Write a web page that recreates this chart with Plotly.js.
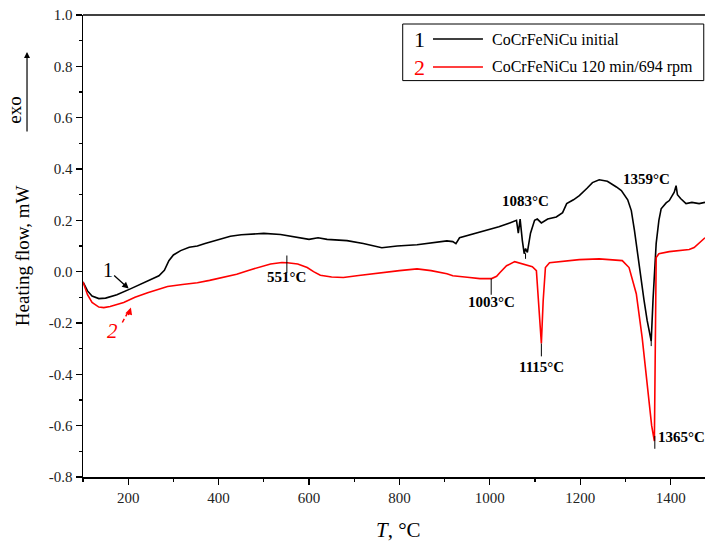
<!DOCTYPE html>
<html>
<head>
<meta charset="utf-8">
<script src="https://cdn.plot.ly/plotly-3.0.1.min.js"></script>
<style>html,body{margin:0;padding:0;background:#fff}#chart{width:705px;height:543px}</style>
</head>
<body>
<div id="chart"></div>
<script>
// Series 1: CoCrFeNiCu initial
const t1 = [100,110,120,135,150,175,206,240,268,280,290,300,316,335,353,370,389,410,426,450,477,500,537,552,570,587,600,620,640,684,720,761,775,795,839,870,905,918,925,933,960,993,1020,1044,1059,1063,1067,1072,1076,1079,1083,1090,1099,1105,1114,1128,1147,1161,1170,1185,1198,1215,1227,1242,1260,1280,1291,1305,1313,1320,1326,1335,1341,1348,1352,1357,1361,1365,1368,1374,1379,1390,1397,1408,1412,1415,1422,1434,1447,1463,1476];
const hf1 = [-0.04,-0.075,-0.095,-0.105,-0.103,-0.09,-0.066,-0.04,-0.016,0.005,0.043,0.065,0.082,0.095,0.10,0.11,0.12,0.13,0.138,0.144,0.148,0.149,0.145,0.14,0.134,0.128,0.126,0.132,0.126,0.121,0.11,0.093,0.096,0.10,0.105,0.112,0.12,0.117,0.109,0.132,0.145,0.16,0.175,0.19,0.2,0.15,0.205,0.12,0.07,0.09,0.075,0.15,0.2,0.205,0.19,0.205,0.213,0.23,0.265,0.28,0.296,0.325,0.347,0.358,0.352,0.33,0.316,0.28,0.238,0.16,0.08,-0.03,-0.11,-0.19,-0.23,-0.27,-0.11,0.05,0.11,0.2,0.245,0.268,0.277,0.31,0.335,0.30,0.285,0.265,0.27,0.265,0.27];
// Series 2: CoCrFeNiCu 120 min/694 rpm
const t2 = [100,110,120,135,146,160,190,215,243,265,287,320,353,380,411,440,464,490,515,540,552,575,596,610,625,650,676,710,757,800,839,870,905,918,950,978,1004,1015,1022,1037,1055,1072,1094,1103,1108,1114,1118,1123,1132,1160,1198,1242,1271,1293,1308,1316,1324,1337,1348,1358,1364,1366,1368,1374,1397,1441,1452,1476];
const hf2 = [-0.04,-0.09,-0.12,-0.138,-0.14,-0.136,-0.12,-0.1,-0.082,-0.07,-0.058,-0.05,-0.043,-0.034,-0.023,-0.01,0.004,0.017,0.03,0.036,0.035,0.03,0.016,0.0,-0.014,-0.021,-0.023,-0.015,-0.004,0.004,0.011,0.004,-0.008,-0.016,-0.022,-0.027,-0.027,-0.018,-0.004,0.023,0.039,0.031,0.019,0.004,-0.113,-0.28,-0.113,0.016,0.035,0.04,0.047,0.05,0.047,0.043,0.016,-0.03,-0.086,-0.257,-0.436,-0.6,-0.66,-0.31,0.055,0.07,0.078,0.086,0.094,0.132];

const seriesNames = ['CoCrFeNiCu initial', 'CoCrFeNiCu 120 min/694 rpm'];
const seriesNums = ['1', '2'];
const seriesColors = ['#000000', '#ff0000'];

const yTickVals = [-0.8,-0.6,-0.4,-0.2,0,0.2,0.4,0.6,0.8,1.0];
const yTickText = ['-0.8','-0.6','-0.4','-0.2','0.0','0.2','0.4','0.6','0.8','1.0'];
const xTickVals = [200,400,600,800,1000,1200,1400];
const xTickText = ['200','400','600','800','1000','1200','1400'];
const xMinorVals = [100,300,500,700,900,1100,1300];

// Peak labels
const peaks = [
  {t:551, ty:-0.02, text:'551°C', y0:0.063, y1:-0.004, tx:551, anchor:'center'},
  {t:1003, ty:-0.12, text:'1003°C', y0:-0.027, y1:-0.09, tx:1003, anchor:'center'},
  {t:1114, ty:-0.37, text:'1115°C', y0:-0.28, y1:-0.33, tx:1114, anchor:'center'},
  {t:1079, ty:0.277, text:'1083°C', y0:0.072, y1:0.05, tx:1080, anchor:'center'},
  {t:1357, ty:0.36, text:'1359°C', y0:-0.25, y1:-0.29, tx:1346, anchor:'center'},
  {t:1365, ty:-0.645, text:'1365°C', y0:-0.64, y1:-0.69, tx:1367, anchor:'left'}
];

const FONT = 'Liberation Serif, Times New Roman, serif';

const traces = [
  {x:t1, y:hf1, type:'scatter', mode:'lines', line:{color:seriesColors[0], width:1.6}, showlegend:false},
  {x:t2, y:hf2, type:'scatter', mode:'lines', line:{color:seriesColors[1], width:1.6}, showlegend:false}
];

const shapes = [];
const annotations = [];

peaks.forEach(p => {
  shapes.push({type:'line', xref:'x', yref:'y', x0:p.t, x1:p.t, y0:p.y0, y1:p.y1, line:{color:'#000', width:1}});
  annotations.push({xref:'x', yref:'y', x:p.tx, y:p.ty, text:'<b>'+p.text+'</b>', showarrow:false,
    xanchor:p.anchor, yanchor:'middle', font:{family:FONT, size:15, color:'#000'}});
});

// top frame line
shapes.push({type:'line', xref:'paper', yref:'paper', x0:0, x1:1, y0:1, y1:1, line:{color:'#000', width:1.5}});

// legend box
shapes.push({type:'rect', xref:'paper', yref:'paper', x0:0.514, x1:0.998, y0:0.858, y1:0.9805, line:{color:'#000', width:1}, fillcolor:'rgba(0,0,0,0)'});
const legY = [0.948, 0.8874];
for (let i = 0; i < 2; i++) {
  shapes.push({type:'line', xref:'paper', yref:'paper', x0:0.5627, x1:0.643, y0:legY[i], y1:legY[i], line:{color:seriesColors[i], width:1.6}});
  annotations.push({xref:'paper', yref:'paper', x:0.5418, y:legY[i], text:seriesNums[i], showarrow:false,
    xanchor:'center', yanchor:'middle', font:{family:FONT, size:22, color:seriesColors[i]}});
  annotations.push({xref:'paper', yref:'paper', x:0.6543, y:legY[i], text:seriesNames[i], showarrow:false,
    xanchor:'left', yanchor:'middle', font:{family:FONT, size:16, color:'#000'}});
}

// curve labels 1 and 2
annotations.push({xref:'x', yref:'y', x:201, y:-0.066, text:'1', showarrow:true, ax:-21, ay:-19,
  arrowhead:2, arrowsize:1, arrowwidth:1.3, arrowcolor:'#000', font:{family:FONT, size:20, color:'#000'}});
annotations.push({xref:'x', yref:'y', x:166, y:-0.23, text:'<i>2</i>', showarrow:false,
  xanchor:'center', yanchor:'middle', font:{family:FONT, size:21, color:'#ff0000'}});
shapes.push({type:'line', xref:'x', yref:'y', layer:'above', x0:187, y0:-0.198, x1:202, y1:-0.15, line:{color:'#ff0000', width:1.5, dash:'4px,3px'}});
annotations.push({xref:'x', yref:'y', x:206, y:-0.14, text:'', showarrow:true, ax:-3, ay:9,
  arrowhead:2, arrowsize:1, arrowwidth:1.4, arrowcolor:'#ff0000'});

// y title and exo
annotations.push({xref:'paper', yref:'paper', x:-0.098, y:0.478, text:'Heating flow, mW', textangle:-90, showarrow:false,
  xanchor:'center', yanchor:'middle', font:{family:FONT, size:19, color:'#000'}});
annotations.push({xref:'paper', yref:'paper', x:-0.11, y:0.794, text:'exo', textangle:-90, showarrow:false,
  xanchor:'center', yanchor:'middle', font:{family:FONT, size:19, color:'#000'}});
annotations.push({xref:'paper', yref:'paper', x:-0.09, y:0.92, text:'', showarrow:true, ax:0, ay:81,
  arrowhead:2, arrowsize:1, arrowwidth:1.2, arrowcolor:'#000'});
// x title
annotations.push({xref:'paper', yref:'paper', x:0.508, y:-0.115, text:'<i>T</i>, °C', showarrow:false,
  xanchor:'center', yanchor:'middle', font:{family:FONT, size:21, color:'#000'}});

const layout = {
  width:705, height:543,
  margin:{l:83, r:0, t:15, b:66},
  paper_bgcolor:'#fff', plot_bgcolor:'#fff',
  showlegend:false,
  font:{family:FONT, color:'#222'},
  xaxis:{range:[100,1476], showgrid:false, zeroline:false, showline:true, linecolor:'#000', linewidth:1.5,
    ticks:'outside', ticklen:6, tickwidth:1.3, tickcolor:'#000', tickvals:xTickVals, ticktext:xTickText,
    tickfont:{family:FONT, size:15, color:'#222'},
    minor:{tickvals:xMinorVals, ticks:'outside', ticklen:3, tickwidth:1.2, tickcolor:'#000'}},
  yaxis:{range:[-0.8,1.0], showgrid:false, zeroline:false, showline:true, linecolor:'#000', linewidth:1.5,
    ticks:'outside', ticklen:6, tickwidth:1.3, tickcolor:'#000', tickvals:yTickVals, ticktext:yTickText,
    tickfont:{family:FONT, size:15, color:'#222'},
    minor:{dtick:0.1, tick0:0, ticks:'outside', ticklen:3, tickwidth:1.2, tickcolor:'#000'}},
  shapes:shapes,
  annotations:annotations
};

Plotly.newPlot('chart', traces, layout, {displayModeBar:false, staticPlot:true});
</script>
</body>
</html>
